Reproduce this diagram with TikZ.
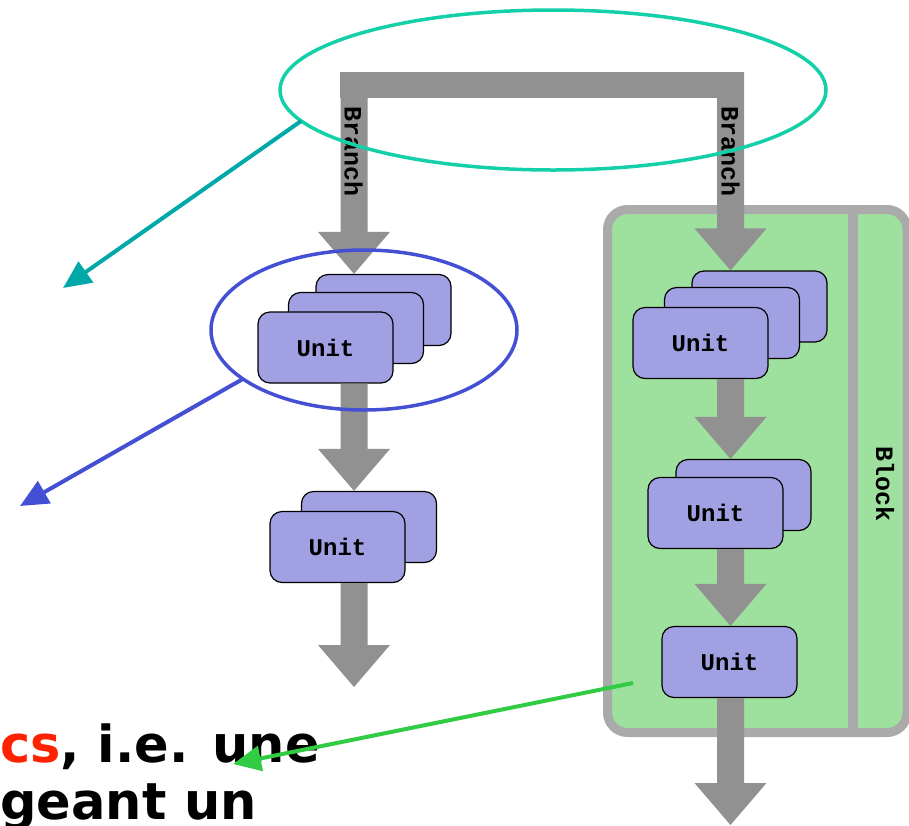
\documentclass[tikz,border=0pt]{standalone}
\usepackage{fontspec}
\setmainfont{DejaVu Sans}
\newfontfamily\monofont{Liberation Mono}
\usetikzlibrary{shapes.geometric,arrows.meta,calc}

\definecolor{flowgray}{RGB}{145,145,145}
\definecolor{unitfill}{RGB}{160,160,226}
\definecolor{blockgreen}{RGB}{158,224,158}
\definecolor{blockrim}{RGB}{170,170,170}
\definecolor{tealring}{RGB}{20,208,168}
\definecolor{tealarrow}{RGB}{0,168,168}
\definecolor{bluering}{RGB}{68,80,212}
\definecolor{greenarrow}{RGB}{50,204,68}
\definecolor{hlred}{RGB}{255,34,0}

% thick grey flow arrow: shaft from #1 straight down to the tip at #2
\newcommand\flowarrow[2]{%
  \fill[flowgray] let \p1=(#1), \p2=(#2) in
    (\x1-13.5pt,\y1) -- (\x1+13.5pt,\y1) -- (\x1+13.5pt,\y2+42pt)
    -- (\x1+36pt,\y2+42pt) -- (\x2,\y2) -- (\x1-36pt,\y2+42pt)
    -- (\x1-13.5pt,\y2+42pt) -- cycle;}

\tikzset{
  card/.style={draw=black, line width=1.2pt, fill=unitfill, rounded corners=12pt,
    minimum width=135pt, minimum height=71pt, inner sep=0pt,
    font=\monofont\bfseries\fontsize{24}{24}\selectfont},
  tag/.style={inner sep=0pt, rotate=-90, font=\monofont\bfseries\fontsize{25}{25}\selectfont},
  ring/.style={ellipse, draw, line width=3.5pt, inner sep=0pt, outer sep=0pt},
  pointer/.style={line width=4pt, -{Triangle[length=28pt,width=25pt]}},
  bigtext/.style={anchor=base west, inner sep=0pt, font=\bfseries\fontsize{51}{51}\selectfont}
}

\begin{document}
\begin{tikzpicture}[x=1pt,y=-1pt]
\useasboundingbox (0,0) rectangle (909,825);

% block frame with its side column
\draw[blockrim, line width=9pt, fill=blockgreen, rounded corners=20pt]
  (607.5,209.5) rectangle (907,732.5);
\draw[blockrim, line width=10pt] (853,214) -- (853,728);
\node[tag] (blocklabel) at (885,484) {Block};

% column axes
\coordinate (colL) at (354,0);
\coordinate (colR) at (730.5,0);

% left branch units
\node[card] (lu1b) at (383.5,310) {};
\node[card] (lu1m) at (356,328) {};
\node[card] (lu1f) at (325.5,347.5) {Unit};
\node[card] (lu2b) at (369,527) {};
\node[card] (lu2f) at (337.5,547) {Unit};

% right branch units
\node[card] (ru1b) at (759.5,306.5) {};
\node[card] (ru1m) at (732,323) {};
\node[card] (ru1f) at (700.5,343) {Unit};
\node[card] (ru2b) at (743.5,495) {};
\node[card] (ru2f) at (715.5,513) {Unit};
\node[card] (ru3) at (729.5,662) {Unit};

% fork bar and flow arrows
\fill[flowgray] (340,72) rectangle (744,98);
\coordinate (forkL) at (354,72);
\coordinate (forkR) at (730.5,72);
\coordinate (endL) at (354,687);
\coordinate (endR) at (730.5,825);
\flowarrow{forkL}{colL |- lu1b.north}
\flowarrow{colL |- lu1f.south}{colL |- lu2b.north}
\flowarrow{colL |- lu2f.south}{endL}
\flowarrow{forkR}{colR |- ru1b.north}
\flowarrow{colR |- ru1f.south}{colR |- ru2b.north}
\flowarrow{colR |- ru2f.south}{colR |- ru3.north}
\flowarrow{colR |- ru3.south}{endR}

\node[tag] (branchL) at (353.5,152) {Branch};
\node[tag] (branchR) at (730.5,152) {Branch};

% caption text
\node[bigtext] (line1) at (0,762) {\textcolor{hlred}{cs}, i.e. une};
\node[bigtext] (line2) at (0,819) {geant un};

% highlight rings and pointers
\node[ring, draw=tealring, minimum width=546pt, minimum height=160pt] (forkring) at (553,90) {};
\node[ring, draw=bluering, minimum width=306pt, minimum height=160pt] (unitring) at (364,330) {};

\coordinate (tealend) at (63,288);
\coordinate (blueend) at (20,506);
\coordinate (greenstart) at (633,683);
\coordinate (greenend) at (233,764);

\draw[pointer, tealarrow] (forkring.187) -- (tealend);
\draw[pointer, bluering] (unitring.202) -- (blueend);
\draw[pointer, greenarrow] (greenstart) -- (greenend);
\end{tikzpicture}
\end{document}
